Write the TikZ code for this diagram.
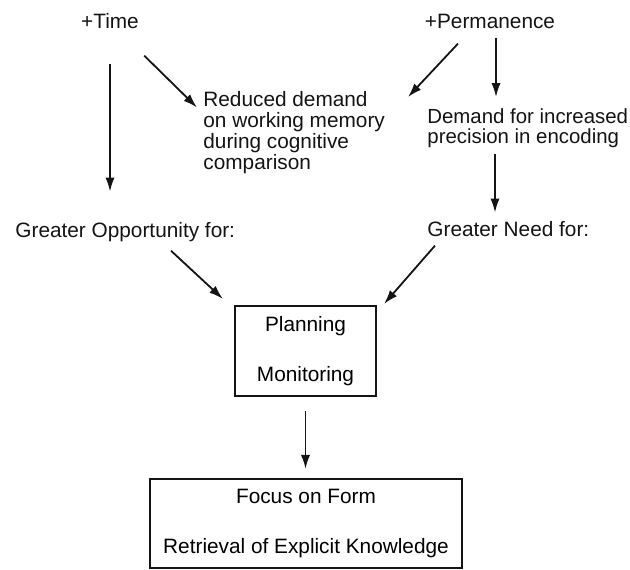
\documentclass[tikz,border=0pt]{standalone}
\usepackage{fontspec}
\setmainfont{Liberation Sans}
\usepackage{tikz}
\usetikzlibrary{arrows.meta,calc,positioning}
\usepackage{xcolor}
\definecolor{fdink}{RGB}{20,20,20}

\begin{document}
\begin{tikzpicture}[x=0.5pt,y=-0.5pt,>={Latex[length=7pt,width=4.6pt]},
  lbl/.style={inner sep=0pt,fdink,font=\fontsize{10.4}{10.5}\selectfont},
  boxnode/.style={draw=fdink,line width=1.1pt,inner sep=0pt,align=center,
    font=\fontsize{10.4}{25}\selectfont},
  arr/.style={->,fdink,line width=0.9pt}]
\useasboundingbox (0,0) rectangle (630,569);
\node[lbl,anchor=base] (time) at (110,28) {+Time};
\node[lbl,anchor=base] (perm) at (490,28) {+Permanence};
\node[lbl,anchor=north west,align=left] (reduced) at (203,91.5)
  {Reduced demand\\on working memory\\during cognitive\\comparison};
\node[lbl,anchor=north west,align=left,font=\fontsize{10.2}{10}\selectfont] (demand) at (427,108)
  {Demand for increased\\precision in encoding};
\node[lbl,anchor=base west] (greatopp) at (15,237) {Greater Opportunity for:};
\node[lbl,anchor=base west] (greatneed) at (427,236) {Greater Need for:};
\node[boxnode,minimum width=70.5pt,minimum height=45pt] (planbox) at (305.5,351)
  {Planning\\Monitoring};
\node[boxnode,minimum width=156pt,minimum height=44.5pt] (focusbox) at (306,523.5)
  {Focus on Form\\Retrieval of Explicit Knowledge};
\draw[arr] ($(time.south)+(0,35)$) -- ($(time.south |- greatopp.north)+(0,-30)$);
\draw[arr] ($(time.south east)+(5,27)$) -- ($(reduced.north west)+(-6,16)$);
\draw[arr] ($(perm.south)+(-32,15)$) -- ($(reduced.north west)+(205,5.5)$);
\draw[arr] ($(perm.south)+(6,9)$) -- ($(perm.south |- demand.north)+(6,-11)$);
\draw[arr] ($(demand.south west)+(68,6)$) -- ($(demand.south west |- greatneed.north)+(68,-8)$);
\draw[arr] ($(greatopp.south west)+(156,9)$) -- ($(planbox.north west)+(-11,-6)$);
\draw[arr] ($(greatneed.south west)+(8,9)$) -- ($(planbox.north east)+(7,-1)$);
\draw[arr,shorten <=7pt,shorten >=4.5pt] (planbox.south) -- (planbox.south |- focusbox.north);
\end{tikzpicture}
\end{document}
